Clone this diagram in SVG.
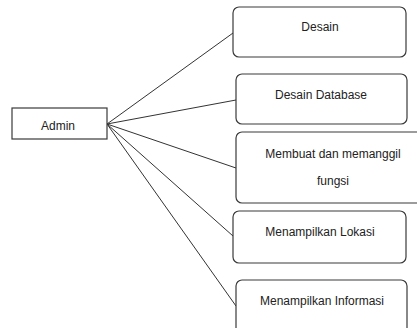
<svg xmlns="http://www.w3.org/2000/svg" width="417" height="328" viewBox="0 0 417 328">
<style>
.box{fill:#fff;stroke:#3a3a3a;stroke-width:1.2}
.lbl{font-family:"Liberation Sans",Arial,sans-serif;font-size:12px;fill:#222;text-anchor:middle;dominant-baseline:central}
.conn line{stroke:#333;stroke-width:1}
</style>
<rect width="417" height="328" fill="#fff"/>
<g class="conn">
<line x1="107" y1="124" x2="233" y2="33"/>
<line x1="107" y1="124" x2="236" y2="100"/>
<line x1="107" y1="124" x2="236" y2="168"/>
<line x1="107" y1="124" x2="233" y2="236"/>
<line x1="107" y1="124" x2="236" y2="306"/>
</g>
<g id="admin">
<rect class="box" x="12" y="108" width="95" height="31"/>
<text class="lbl" x="58" y="126">Admin</text>
</g>
<g id="desain">
<rect class="box" x="233" y="7" width="173" height="50" rx="6"/>
<text class="lbl" x="320" y="27">Desain</text>
</g>
<g id="desain-database">
<rect class="box" x="236" y="74" width="171" height="50" rx="6"/>
<text class="lbl" x="321" y="95">Desain Database</text>
</g>
<g id="membuat">
<rect class="box" x="236" y="132" width="190" height="71" rx="6"/>
<text class="lbl" x="333" y="154">Membuat dan memanggil</text>
<text class="lbl" x="333" y="181">fungsi</text>
</g>
<g id="lokasi">
<rect class="box" x="233" y="211" width="173" height="52" rx="6"/>
<text class="lbl" x="320" y="232">Menampilkan Lokasi</text>
</g>
<g id="informasi">
<rect class="box" x="236" y="280" width="171" height="60" rx="6"/>
<text class="lbl" x="322" y="301">Menampilkan Informasi</text>
</g>
</svg>
